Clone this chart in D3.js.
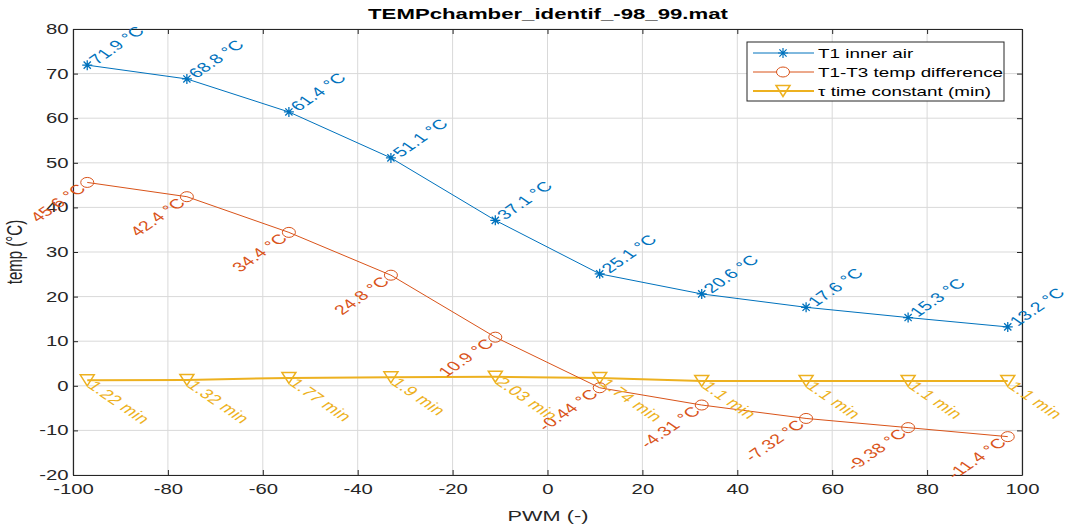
<!DOCTYPE html>
<html>
<head>
<meta charset="utf-8">
<script src="https://d3js.org/d3.v7.min.js"></script>
<style>
    body { margin: 0; background: #fff; }
    text { font-family: "Liberation Sans", Arial, sans-serif; }
</style>
</head>
<body>
<svg width="1068" height="529"></svg>
<script>
    // data
    var pwm = [-97, -76, -54.5, -33, -11, 11, 32.5, 54.5, 76, 97];
    var t1 = [71.9, 68.8, 61.4, 51.1, 37.1, 25.1, 20.6, 17.6, 15.3, 13.2];
    var dT = [45.6, 42.4, 34.4, 24.8, 10.9, -0.44, -4.31, -7.32, -9.38, -11.4];
    var tau = [1.22, 1.32, 1.77, 1.9, 2.03, 1.74, 1.1, 1.1, 1.1, 1.1];
    var xTicks = [-100, -80, -60, -40, -20, 0, 20, 40, 60, 80, 100];
    var yTicks = [-20, -10, 0, 10, 20, 30, 40, 50, 60, 70, 80];
    var names = ["T1 inner air", "T1-T3 temp difference", "\u03C4 time constant (min)"];

    var blue = "#0072BD", orange = "#D95319", yellow = "#EDB120", axc = "#262626";
    var SX = 1.45; // figure is stretched horizontally
    var fs = 13.5;

    var svg = d3.select("svg");
    var m = { left: 73, right: 1022, top: 29, bottom: 475 };

    var x = d3.scaleLinear().domain([-100, 100]).range([m.left, m.right]);
    var y = d3.scaleLinear().domain([-20, 80]).range([m.bottom, m.top]);

    function tr(px, py, rot) {
        return "translate(" + px + "," + py + ") scale(" + SX + ",1) rotate(" + rot + ")";
    }

    // grid
    var grid = svg.append("g").attr("stroke", "#d9d9d9").attr("stroke-width", 1);
    grid.selectAll(".gx").data(xTicks).enter().append("line")
        .attr("x1", d => x(d)).attr("x2", d => x(d)).attr("y1", m.top).attr("y2", m.bottom);
    grid.selectAll(".gy").data(yTicks).enter().append("line")
        .attr("y1", d => y(d)).attr("y2", d => y(d)).attr("x1", m.left).attr("x2", m.right);

    // axes (ticks inside on all four sides)
    function styleAxis(g) {
        g.select(".domain").attr("stroke", axc).attr("stroke-width", 1.2);
        g.selectAll(".tick line").attr("stroke", axc);
        g.selectAll(".tick text").attr("fill", axc).style("font-size", "14px")
            .style("font-family", "Liberation Sans, Arial, sans-serif");
    }
    var fmt = d => String(d);
    var xb = svg.append("g").attr("transform", "translate(0," + m.bottom + ")")
        .call(d3.axisBottom(x).tickValues(xTicks).tickFormat(fmt).tickSizeInner(-5).tickSizeOuter(0).tickPadding(9));
    styleAxis(xb);
    xb.selectAll(".tick text").attr("transform", "scale(" + SX + ",1)");
    var xt = svg.append("g").attr("transform", "translate(0," + m.top + ")")
        .call(d3.axisTop(x).tickValues(xTicks).tickSizeInner(-5).tickSizeOuter(0).tickFormat(""));
    styleAxis(xt);
    var yl = svg.append("g").attr("transform", "translate(" + m.left + ",0)")
        .call(d3.axisLeft(y).tickValues(yTicks).tickFormat(fmt).tickSizeInner(-5).tickSizeOuter(0).tickPadding(3));
    styleAxis(yl);
    yl.selectAll(".tick text").attr("transform", "scale(" + SX + ",1)");
    var yr = svg.append("g").attr("transform", "translate(" + m.right + ",0)")
        .call(d3.axisRight(y).tickValues(yTicks).tickSizeInner(-5).tickSizeOuter(0).tickFormat(""));
    styleAxis(yr);

    // title and axis labels
    svg.append("text").attr("transform", tr(548, 19, 0)).attr("text-anchor", "middle")
        .style("font-size", "15.3px").style("font-weight", "bold").attr("fill", "#000")
        .text("TEMPchamber_identif_-98_99.mat");
    svg.append("text").attr("transform", tr(548, 521, 0)).attr("text-anchor", "middle")
        .style("font-size", "15px").attr("fill", axc).text("PWM (-)");
    svg.append("text").attr("transform", tr(22, 252, -90)).attr("text-anchor", "middle")
        .style("font-size", "15px").attr("fill", axc).text("temp (\u00B0C)");

    var line = d3.line().x(d => x(d[0])).y(d => y(d[1]));
    var plot = svg.append("g");

    function zip(vals) { return pwm.map((p, i) => [p, vals[i]]); }

    var star = "M-5,0H5M0,-5V5M-3.6,-3.6L3.6,3.6M-3.6,3.6L3.6,-3.6";
    var tri = "M-7,-5.5H7L0,5.5Z";

    // yellow tau series
    plot.append("path").attr("d", line(zip(tau))).attr("fill", "none")
        .attr("stroke", yellow).attr("stroke-width", 2);
    plot.selectAll(".tri").data(zip(tau)).enter().append("path")
        .attr("d", tri).attr("transform", d => "translate(" + x(d[0]) + "," + y(d[1]) + ")")
        .attr("fill", "none").attr("stroke", yellow).attr("stroke-width", 1.5);

    // orange difference series
    plot.append("path").attr("d", line(zip(dT))).attr("fill", "none")
        .attr("stroke", orange).attr("stroke-width", 1);
    plot.selectAll(".circ").data(zip(dT)).enter().append("ellipse")
        .attr("cx", d => x(d[0])).attr("cy", d => y(d[1])).attr("rx", 6.5).attr("ry", 5)
        .attr("fill", "none").attr("stroke", orange).attr("stroke-width", 1);

    // blue T1 series
    plot.append("path").attr("d", line(zip(t1))).attr("fill", "none")
        .attr("stroke", blue).attr("stroke-width", 1);
    plot.selectAll(".star").data(zip(t1)).enter().append("path")
        .attr("d", star).attr("transform", d => "translate(" + x(d[0]) + "," + y(d[1]) + ")")
        .attr("fill", "none").attr("stroke", blue).attr("stroke-width", 1.3);

    // point labels
    plot.selectAll(".lb").data(zip(t1)).enter().append("text")
        .attr("transform", d => tr(x(d[0]), y(d[1]), -45))
        .attr("dx", 5).attr("dy", "0.35em").attr("fill", blue)
        .style("font-size", fs + "px").style("letter-spacing", "0.3px")
        .text(d => d[1] + " \u00B0C");
    plot.selectAll(".lo").data(zip(dT)).enter().append("text")
        .attr("transform", d => tr(x(d[0]), y(d[1]), -45))
        .attr("dx", -5).attr("dy", "0.35em").attr("text-anchor", "end")
        .attr("fill", orange).style("font-size", fs + "px").style("letter-spacing", "0.3px")
        .text(d => d[1] + " \u00B0C");
    plot.selectAll(".ly").data(zip(tau)).enter().append("text")
        .attr("transform", d => tr(x(d[0]), y(d[1]), 45))
        .attr("dx", 4).attr("dy", "0.35em").attr("fill", yellow)
        .style("font-size", fs + "px").style("letter-spacing", "0.3px")
        .text(d => d[1] + " min");

    // legend
    var lg = svg.append("g");
    lg.append("rect").attr("x", 747).attr("y", 42).attr("width", 257).attr("height", 59)
        .attr("fill", "#fff").attr("stroke", axc).attr("stroke-width", 1);
    var cols = [blue, orange, yellow];
    var marks = [star, null, tri];
    names.forEach(function (n, i) {
        var ly = 53 + i * 19;
        lg.append("line").attr("x1", 753).attr("x2", 814).attr("y1", ly).attr("y2", ly)
            .attr("stroke", cols[i]).attr("stroke-width", i == 2 ? 2 : 1);
        if (i == 1) {
            lg.append("ellipse").attr("cx", 783).attr("cy", ly).attr("rx", 6.5).attr("ry", 5)
                .attr("fill", "#fff").attr("stroke", orange);
        } else {
            lg.append("path").attr("d", marks[i]).attr("transform", "translate(783," + ly + ")")
                .attr("fill", "none").attr("stroke", cols[i]).attr("stroke-width", i == 2 ? 1.5 : 1.2);
        }
        lg.append("text").attr("transform", tr(818, ly, 0)).attr("dy", "0.35em")
            .style("font-size", "13px").attr("fill", "#000").text(n);
    });
</script>
</body>
</html>
